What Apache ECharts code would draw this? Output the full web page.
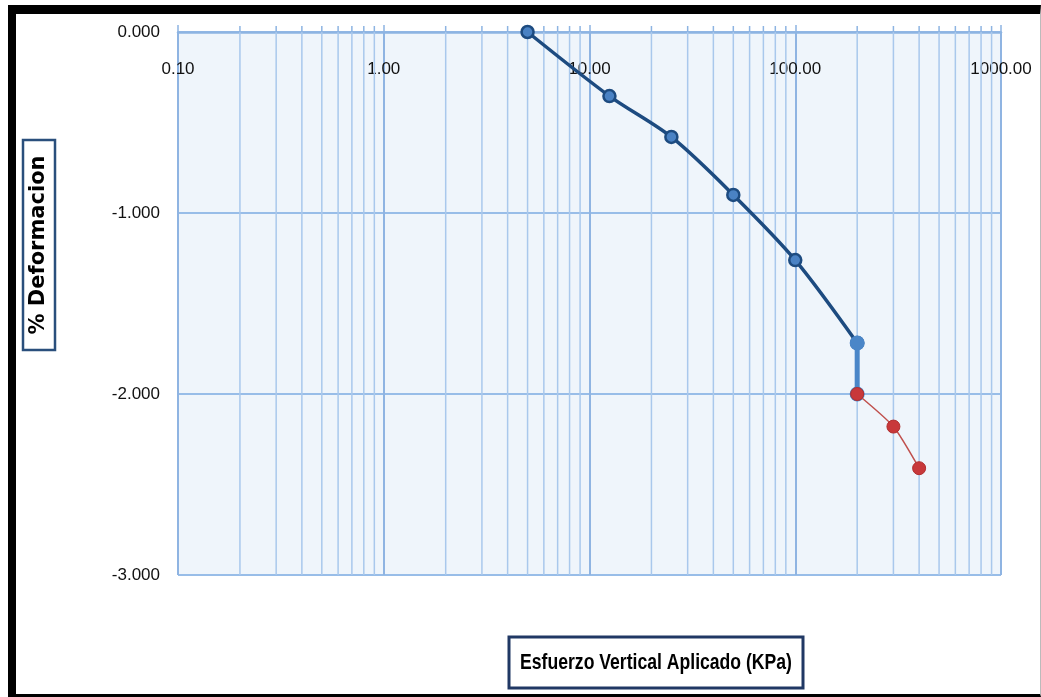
<!DOCTYPE html>
<html><head><meta charset="utf-8">
<script src="https://cdn.jsdelivr.net/npm/echarts@6/dist/echarts.min.js"></script>
<style>
html,body{margin:0;padding:0;background:#fff;overflow:hidden;}
#frame{position:absolute;left:8px;top:5px;width:1033px;height:692px;box-sizing:border-box;border-left:8px solid #000;border-top:9px solid #000;border-bottom:3px solid #000;border-right:1px solid #bbb;}
#chart{position:absolute;left:0;top:0;width:1041px;height:697px;}
</style></head><body>
<div id="frame"></div>
<div id="chart"></div>
<script>
// Data
const stressLoad = [5, 12.5, 25, 50, 100, 200];
const defLoad = [0, -0.354, -0.58, -0.90, -1.26, -1.718];
const stressStep = [200, 200];
const defStep = [-1.718, -2.0];
const stressRed = [200, 300, 400];
const defRed = [-2.0, -2.18, -2.41];
// Axis ticks
const xMajorTicks = [0.1, 1, 10, 100, 1000];
const xMinorTicks = [0.2,0.3,0.4,0.5,0.6,0.7,0.8,0.9, 2,3,4,5,6,7,8,9, 20,30,40,50,60,70,80,90, 200,300,400,500,600,700,800,900];
const yTicks = [0, -1, -2, -3];
const xTitle = 'Esfuerzo Vertical Aplicado (KPa)';
const yTitle = '% Deformacion';

const sans = "'Liberation Sans', Arial, sans-serif";
const zip = (a, b) => a.map((v, i) => [v, b[i]]);

const chart = echarts.init(document.getElementById('chart'));
chart.setOption({
  animation: false,
  backgroundColor: 'transparent',
  grid: { left: 178, right: 40, top: 32, bottom: 122, show: true, backgroundColor: '#eff5fb', borderWidth: 0 },
  xAxis: {
    type: 'log', logBase: 10, min: 0.1, max: 1000, position: 'top',
    axisLine: { show: true, lineStyle: { color: '#8db4e2', width: 2.5 } },
    axisTick: { show: true, length: 7, lineStyle: { color: '#8db4e2', width: 1.5 } },
    axisLabel: {
      inside: true, margin: 29, color: '#111', fontSize: 17, fontFamily: sans,
      formatter: v => Number(v).toFixed(2)
    },
    splitLine: { show: true, lineStyle: { color: '#8fb4e2', width: 2 } }
  },
  yAxis: {
    type: 'value', min: -3, max: 0, interval: 1,
    axisLine: { show: false }, axisTick: { show: false },
    axisLabel: { margin: 18, color: '#111', fontSize: 17, fontFamily: sans, formatter: v => v.toFixed(3) },
    splitLine: { show: true, lineStyle: { color: '#98bde8', width: 2 } }
  },
  graphic: [
    { type: 'rect', shape: { x: 23, y: 140, width: 32, height: 210 }, style: { fill: '#fff', stroke: '#2a4f7c', lineWidth: 2.5 } },
    { type: 'text', x: 39, y: 245, rotation: Math.PI / 2,
      style: { text: yTitle, fontSize: 21, fontWeight: 'bold', fontFamily: "'DejaVu Sans', sans-serif", fill: '#000', align: 'center', verticalAlign: 'middle' } },
    { type: 'rect', shape: { x: 509, y: 637, width: 294, height: 51 }, style: { fill: '#fff', stroke: '#203864', lineWidth: 3 } },
    { type: 'text', x: 656, y: 663, scaleX: 0.8,
      style: { text: xTitle, fontSize: 22, fontWeight: 'bold', fontFamily: sans, fill: '#000', align: 'center', verticalAlign: 'middle' } }
  ],
  series: [
    {
      type: 'custom', z: 1, silent: true, clip: false,
      data: xMinorTicks.map(v => [v, 0]),
      renderItem: (params, api) => {
        const v = api.value(0);
        const top = api.coord([v, 0]);
        const bot = api.coord([v, -3]);
        return { type: 'group', children: [
          { type: 'line', shape: { x1: top[0], y1: bot[1], x2: top[0], y2: top[1] }, style: { stroke: '#a9c8ec', lineWidth: 1.5 } },
          { type: 'line', shape: { x1: top[0], y1: top[1], x2: top[0], y2: top[1] - 6 }, style: { stroke: '#8db4e2', lineWidth: 1.5 } }
        ] };
      }
    },
    {
      type: 'line', z: 3, data: zip(stressLoad, defLoad), smooth: 0.3,
      lineStyle: { color: '#1d4b80', width: 3.5 },
      symbol: 'circle', symbolSize: 12,
      itemStyle: { color: '#4a82c4', borderColor: '#1d4b80', borderWidth: 2.5 }
    },
    {
      type: 'line', z: 4, data: zip(stressStep, defStep),
      lineStyle: { color: '#4a86c8', width: 5 },
      symbol: 'circle', symbolSize: 15,
      itemStyle: { color: '#4a86c8', borderWidth: 0 }
    },
    {
      type: 'line', z: 5, data: zip(stressRed, defRed), smooth: 0.2,
      lineStyle: { color: '#c0504d', width: 1.5 },
      symbol: 'circle', symbolSize: 13,
      itemStyle: { color: '#c8383a', borderColor: '#b02e2e', borderWidth: 1 }
    }
  ]
});
</script>
</body></html>
